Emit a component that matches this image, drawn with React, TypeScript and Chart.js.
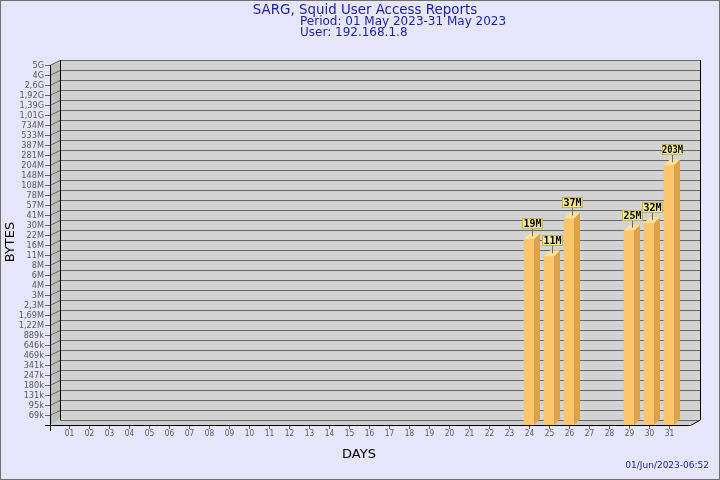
import React, { useEffect, useRef } from 'react';
import { Chart, registerables } from 'chart.js';

Chart.register(...registerables);

const TITLE_LINES = ['SARG, Squid User Access Reports', 'Period: 01 May 2023-31 May 2023', 'User: 192.168.1.8'];
const X_TITLE = 'DAYS';
const Y_TITLE = 'BYTES';
const STAMP = '01/Jun/2023-06:52';

const DAYS = ['01', '02', '03', '04', '05', '06', '07', '08', '09', '10', '11', '12', '13', '14', '15', '16', '17', '18', '19', '20', '21', '22', '23', '24', '25', '26', '27', '28', '29', '30', '31'];
const BYTES: (number | null)[] = [null, null, null, null, null, null, null, null, null, null, null, null, null, null, null, null, null, null, null, null, null, null, null, 19000000, 11000000, 37000000, null, null, 25000000, 32000000, 203000000];
const BAR_LABELS = ['', '', '', '', '', '', '', '', '', '', '', '', '', '', '', '', '', '', '', '', '', '', '', '19M', '11M', '37M', '', '', '25M', '32M', '203M'];

// bottom to top
const Y_TICK_LABELS = ['69k', '95k', '131k', '180k', '247k', '341k', '469k', '646k', '889k', '1,22M', '1,69M', '2,3M', '3M', '4M', '6M', '8M', '11M', '16M', '22M', '30M', '41M', '57M', '78M', '108M', '148M', '204M', '281M', '387M', '533M', '734M', '1,01G', '1,39G', '1,92G', '2,6G', '4G', '5G'];
const Y_BASE = 69000;
const Y_RATIO = 1.3767;

const BG = '#e6e6fa';
const NAVY = '#1e1e96';
const DX = 10;
const DY = 5;

function tickValue(k: number) {
  return Y_BASE * Math.pow(Y_RATIO, k);
}

function drawText(ctx: any, text: string, x: number, y: number, font: string, align: string, sx: number, maxW?: number) {
  ctx.save();
  ctx.font = font;
  ctx.textAlign = align;
  ctx.textBaseline = 'middle';
  let s = sx;
  if (maxW) {
    const w = ctx.measureText(text).width * sx;
    if (w > maxW) s = (sx * maxW) / w;
  }
  ctx.translate(x, y);
  ctx.scale(s, 1);
  ctx.fillText(text, 0, 0);
  ctx.restore();
}

const sargPlugin = {
  id: 'sarg3d',
  beforeDraw(chart: any) {
    const { ctx, width, height } = chart;
    ctx.save();
    ctx.fillStyle = BG;
    ctx.fillRect(0, 0, width, height);
    ctx.strokeStyle = '#707070';
    ctx.lineWidth = 1;
    ctx.strokeRect(0.5, 0.5, width - 1, height - 1);

    // titles
    ctx.fillStyle = NAVY;
    drawText(ctx, TITLE_LINES[0], 365, 11, '13.4px "DejaVu Sans"', 'center', 1);
    drawText(ctx, TITLE_LINES[1], 300, 22, '12px "DejaVu Sans"', 'left', 1);
    drawText(ctx, TITLE_LINES[2], 300, 33, '12px "DejaVu Sans"', 'left', 1);

    ctx.fillStyle = '#000000';
    drawText(ctx, X_TITLE, 359, 455, '13px "DejaVu Sans"', 'center', 1);
    ctx.save();
    ctx.translate(11, 242);
    ctx.rotate(-Math.PI / 2);
    drawText(ctx, Y_TITLE, 0, 0, '13px "DejaVu Sans"', 'center', 1);
    ctx.restore();

    ctx.fillStyle = NAVY;
    drawText(ctx, STAMP, 709, 466, '9px "DejaVu Sans"', 'right', 1);
    ctx.restore();
  },
  beforeDatasetsDraw(chart: any) {
    const { ctx, chartArea } = chart;
    const ys = chart.scales.y;
    const xs = chart.scales.x;
    const L = chartArea.left - 9;
    const R = chartArea.right + 11;
    const T = chartArea.top;
    const B = chartArea.bottom;
    ctx.save();
    // back wall
    ctx.fillStyle = '#d3d3d3';
    ctx.fillRect(L + DX, T - DY, R - L, B - T);
    // left wall
    ctx.fillStyle = '#bebebe';
    ctx.beginPath();
    ctx.moveTo(L, T);
    ctx.lineTo(L + DX, T - DY);
    ctx.lineTo(L + DX, B - DY);
    ctx.lineTo(L, B);
    ctx.closePath();
    ctx.fill();
    // floor
    ctx.fillStyle = '#cdcdcd';
    ctx.beginPath();
    ctx.moveTo(L, B);
    ctx.lineTo(L + DX, B - DY);
    ctx.lineTo(R + DX, B - DY);
    ctx.lineTo(R, B);
    ctx.closePath();
    ctx.fill();

    // grid lines
    ctx.lineWidth = 1;
    ctx.strokeStyle = '#666666';
    for (let k = 0; k < Y_TICK_LABELS.length; k++) {
      const y = Math.round(ys.getPixelForValue(tickValue(k)));
      ctx.beginPath();
      ctx.moveTo(L + DX, y - DY + 0.5);
      ctx.lineTo(R + DX, y - DY + 0.5);
      ctx.moveTo(L - 5, y + 0.5);
      ctx.lineTo(L, y + 0.5);
      ctx.lineTo(L + DX, y - DY + 0.5);
      ctx.stroke();
      ctx.fillStyle = '#5a5a5a';
      drawText(ctx, Y_TICK_LABELS[k], L - 6, y + 1, '9.5px "DejaVu Sans"', 'right', 0.86);
    }
    ctx.beginPath();
    ctx.moveTo(L + DX, B - DY + 0.5);
    ctx.lineTo(R + DX, B - DY + 0.5);
    ctx.stroke();

    // black edges
    ctx.strokeStyle = '#000000';
    ctx.beginPath();
    ctx.moveTo(L + DX + 0.5, T - DY);
    ctx.lineTo(L + DX + 0.5, B - DY);
    ctx.moveTo(R + DX + 0.5, T - DY);
    ctx.lineTo(R + DX + 0.5, B - DY);
    ctx.lineTo(R + 0.5, B + 0.5);
    ctx.lineTo(L - 5, B + 0.5);
    ctx.moveTo(L + 0.5, T);
    ctx.lineTo(L + 0.5, B + 6);
    ctx.stroke();

    // x ticks & labels
    ctx.strokeStyle = '#666666';
    ctx.fillStyle = '#5a5a5a';
    for (let i = 0; i < DAYS.length; i++) {
      const x = Math.round(xs.getPixelForValue(i));
      ctx.beginPath();
      ctx.moveTo(x + 0.5, B + 1);
      ctx.lineTo(x + 0.5, B + 4);
      ctx.stroke();
      drawText(ctx, DAYS[i], x + 0.5, B + 8.5, '9.5px "DejaVu Sans"', 'center', 0.78);
    }
    ctx.restore();
  },
  afterDatasetsDraw(chart: any) {
    const { ctx } = chart;
    const meta = chart.getDatasetMeta(0);
    ctx.save();
    meta.data.forEach((el: any, i: number) => {
      if (BYTES[i] == null) return;
      const w = el.width;
      const left = el.x - w / 2;
      const right = el.x + w / 2;
      const y = el.y;
      const base = el.base;
      const d = 6;
      ctx.fillStyle = '#dca24c';
      ctx.beginPath();
      ctx.moveTo(right, y);
      ctx.lineTo(right + d, y - d);
      ctx.lineTo(right + d, base - d);
      ctx.lineTo(right, base);
      ctx.closePath();
      ctx.fill();
      ctx.fillStyle = '#ffe293';
      ctx.beginPath();
      ctx.moveTo(left, y);
      ctx.lineTo(left + d, y - d);
      ctx.lineTo(right + d, y - d);
      ctx.lineTo(right, y);
      ctx.closePath();
      ctx.fill();

      // value label
      const cx = Math.round(el.x + 3);
      const bw = 21;
      const bh = 11;
      const bb = Math.round(y - 10);
      ctx.strokeStyle = '#6a6a6a';
      ctx.lineWidth = 1;
      ctx.beginPath();
      ctx.moveTo(cx + 0.5, bb);
      ctx.lineTo(cx + 0.5, y - 3);
      ctx.stroke();
      ctx.fillStyle = '#f4ea9c';
      ctx.fillRect(cx - 10, bb - bh, bw, bh);
      ctx.strokeStyle = '#c9b443';
      ctx.strokeRect(cx - 10 + 0.5, bb - bh + 0.5, bw - 1, bh - 1);
      ctx.fillStyle = '#000000';
      drawText(ctx, BAR_LABELS[i], cx + 0.5, bb - bh / 2 + 0.5, 'bold 10px "DejaVu Sans Mono"', 'center', 1, 21);
    });
    ctx.restore();
  },
};

export default function App() {
  const ref = useRef<HTMLCanvasElement | null>(null);
  useEffect(() => {
    if (!ref.current) return;
    const chart = new Chart(ref.current, {
      type: 'bar',
      data: {
        labels: DAYS,
        datasets: [
          {
            data: BYTES as any,
            backgroundColor: '#fec66c',
            borderWidth: 0,
            barThickness: 10,
          },
        ],
      },
      options: {
        animation: false,
        responsive: false,
        devicePixelRatio: 1,
        events: [],
        layout: { padding: { left: 59, right: 41, top: 65, bottom: 55 } },
        plugins: { legend: { display: false }, tooltip: { enabled: false }, title: { display: false } },
        scales: {
          x: { type: 'category', display: false, offset: true },
          y: {
            type: 'logarithmic',
            display: false,
            min: tickValue(-1),
            max: tickValue(Y_TICK_LABELS.length - 1),
          },
        },
      },
      plugins: [sargPlugin],
    });
    return () => chart.destroy();
  }, []);
  return (
    <div style={{ position: 'absolute', left: 0, top: 0, width: 720, height: 480 }}>
      <canvas ref={ref} width={720} height={480} style={{ width: 720, height: 480, display: 'block' }} />
    </div>
  );
}
